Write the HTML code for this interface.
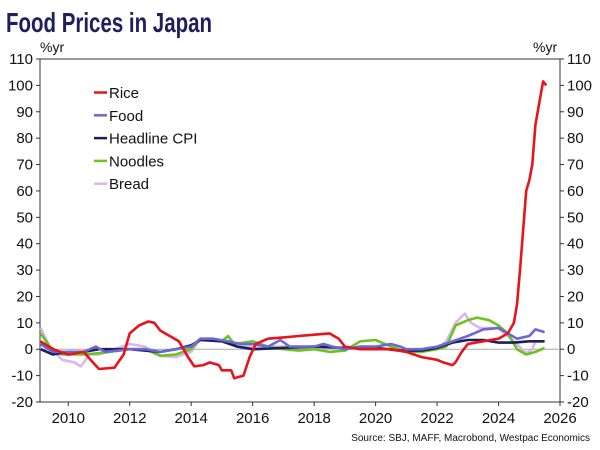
<!DOCTYPE html>
<html><head><meta charset="utf-8"><style>
body{margin:0;background:#fff;}
svg{display:block;font-family:"Liberation Sans",sans-serif;}
</style></head><body>
<svg id="chart" width="600" height="450" viewBox="0 0 600 450">
<text x="6" y="32" textLength="206" lengthAdjust="spacingAndGlyphs" font-family="'Liberation Sans Narrow','Liberation Sans',sans-serif" font-weight="bold" font-size="28" fill="#1e1f5c">Food Prices in Japan</text>
<text x="40" y="52" font-size="14" fill="#111">%yr</text>
<text x="533" y="52" font-size="14" fill="#111">%yr</text>
<text x="590" y="441" font-size="10" fill="#111" text-anchor="end">Source: SBJ, MAFF, Macrobond, Westpac Economics</text>
<g id="axes"></g>
<g id="series"></g>
<g id="legend"></g>
</svg>
<script>
const yTicks=[-20,-10,0,10,20,30,40,50,60,70,80,90,100,110];
const xTicks=[2010,2012,2014,2016,2018,2020,2022,2024,2026];
const seriesNames=["Rice","Food","Headline CPI","Noodles","Bread"];
const riceYears=[2009.1,2009.5,2010,2010.5,2010.8,2011,2011.5,2011.8,2012,2012.3,2012.6,2012.8,2013,2013.3,2013.6,2013.9,2014.1,2014.4,2014.6,2014.9,2015,2015.3,2015.4,2015.7,2015.9,2016.1,2016.5,2017,2017.5,2018,2018.5,2018.8,2019,2019.5,2020,2020.5,2021,2021.5,2022,2022.2,2022.5,2022.6,2022.8,2023,2023.5,2024,2024.3,2024.5,2024.6,2024.7,2024.8,2024.9,2025,2025.1,2025.2,2025.35,2025.45,2025.55];
const riceVals=[3,0,-2,-1,-5,-7.5,-7,-2,6,9,10.5,10,7,5,3,-3,-6.5,-6,-5,-6,-8,-8,-11,-10,-3,2,4,4.5,5,5.5,6,4,1,0,0,0,-1,-3,-4,-5,-6,-5,-1,2,3,4,6,10,17,30,45,60,64,70,85,95,101.5,100];
const foodYears=[2009.1,2009.5,2010,2010.5,2010.9,2011.2,2012,2012.5,2013,2013.5,2014,2014.3,2014.7,2015.2,2015.6,2016,2016.5,2016.9,2017.2,2018,2018.3,2018.6,2019,2019.5,2020,2020.5,2020.8,2021,2021.5,2022,2022.5,2023,2023.5,2024,2024.3,2024.6,2025,2025.2,2025.5];
const foodVals=[2,-1,-1,-1,1,-1,0,0,-1,0,1,4,4,3,2,2,1,3.5,1,1,2,1,0,1,1,2,1,0,0,1,3,5,7.5,8,6,4,5,7.5,6.5];
const cpiYears=[2009.1,2009.5,2010,2010.5,2011,2012,2013,2013.5,2014,2014.3,2015,2015.5,2016,2017,2018,2019,2020,2020.8,2021.5,2022,2022.5,2023,2023.5,2024,2024.5,2025,2025.5];
const cpiVals=[0,-2,-1,-1,0,0,-1,0,1.5,3.5,3,1,0,0.5,1,0.5,0.5,-0.5,-0.5,0.5,2.5,3.5,3.5,2.5,2.5,3,3];
const noodleYears=[2009.1,2009.4,2009.8,2010.5,2011,2012,2012.5,2013,2013.5,2014,2014.3,2015,2015.2,2015.4,2016,2016.5,2017,2017.5,2018,2018.5,2019,2019.5,2020,2020.5,2021,2021.5,2022,2022.3,2022.6,2023,2023.3,2023.7,2024,2024.3,2024.6,2024.9,2025.2,2025.5];
const noodleVals=[6,1,-2,-2,-1.5,0,0,-2.5,-2,0,4,3,5,2,3,1,0,-0.5,0,-1,-0.5,3,3.5,1,-1,-1,0,1,9,11,12,11,9,6,0,-2,-1,0.5];
const breadYears=[2009.1,2009.4,2009.8,2010.2,2010.4,2010.7,2011,2012,2012.5,2013,2013.5,2014,2014.3,2014.6,2015,2015.5,2016,2016.5,2017,2018,2019,2019.5,2020,2021,2022,2022.3,2022.6,2022.9,2023.1,2023.4,2024,2024.5,2024.9,2025.1,2025.2,2025.5];
const breadVals=[8,1,-4,-5,-6.5,-2,-2,2,1,-2.5,-3,-1,4,4,3,1,1,1,1,0,0.5,1,0.5,-1,0,3,10,13.5,10,8,8,3,-1.5,0,3,3];

const NS="http://www.w3.org/2000/svg";
const L=40,R=560,T=59,B=402;
const X0=2009.08,X1=2026,Y0=-20,Y1=110;
function xs(v){return L+(v-X0)/(X1-X0)*(R-L);}
function ys(v){return B-(v-Y0)/(Y1-Y0)*(B-T);}
function mk(tag,attrs,parent){const e=document.createElementNS(NS,tag);for(const k in attrs)e.setAttribute(k,attrs[k]);parent.appendChild(e);return e;}
const axes=document.getElementById('axes');
const frame=mk('rect',{x:L,y:T,width:R-L,height:B-T,fill:'none',stroke:'#333','stroke-width':1},axes);


const zl=mk('line',{x1:L,x2:R,y1:ys(0),y2:ys(0),stroke:'#aaa','stroke-width':1},axes);


yTicks.forEach(v=>{
  const y=ys(v);
  mk('line',{x1:L-4,x2:L,y1:y,y2:y,stroke:'#333'},axes);
  mk('line',{x1:R,x2:R+4,y1:y,y2:y,stroke:'#333'},axes);
  const t1=mk('text',{x:L-7,y:y+5,'text-anchor':'end','font-size':15,fill:'#111'},axes);
  t1.textContent=v;
  
  
  const t2=mk('text',{x:R+7,y:y+5,'font-size':15,fill:'#111'},axes);
  t2.textContent=v;
  
  
});
xTicks.forEach(v=>{
  const x=xs(v);
  mk('line',{x1:x,x2:x,y1:B,y2:B+4,stroke:'#333'},axes);
  const t=mk('text',{x:x,y:B+21,'text-anchor':'middle','font-size':15,fill:'#111'},axes);
  t.textContent=v;
  
  
});
const sg=document.getElementById('series');
const defs=[[breadYears,breadVals,'#dcb4ee','bread-line'],[noodleYears,noodleVals,'#6cc31e','noodles-line'],[cpiYears,cpiVals,'#1c1f5a','headline-cpi-line'],[foodYears,foodVals,'#6b68d4','food-line'],[riceYears,riceVals,'#e8141c','rice-line']];
defs.forEach(d=>{
  const pts=d[0].map((yr,i)=>xs(yr).toFixed(1)+','+ys(d[1][i]).toFixed(1)).join(' ');
  const p=mk('polyline',{points:pts,fill:'none',stroke:d[2],'stroke-width':2.6,'stroke-linejoin':'round'},sg);
  
  
});
const lg=document.getElementById('legend');
const lcol=['#e8141c','#6b68d4','#1c1f5a','#6cc31e','#dcb4ee'];
seriesNames.forEach((n,i)=>{
  const y=92.5+i*22.8;
  const ln=mk('line',{x1:94,x2:107,y1:y,y2:y,stroke:lcol[i],'stroke-width':2.5},lg);
  
  
  const t=mk('text',{x:109,y:y+5.5,'font-size':15,fill:'#111'},lg);
  t.textContent=n;
  
  
});
</script>
</body></html>
